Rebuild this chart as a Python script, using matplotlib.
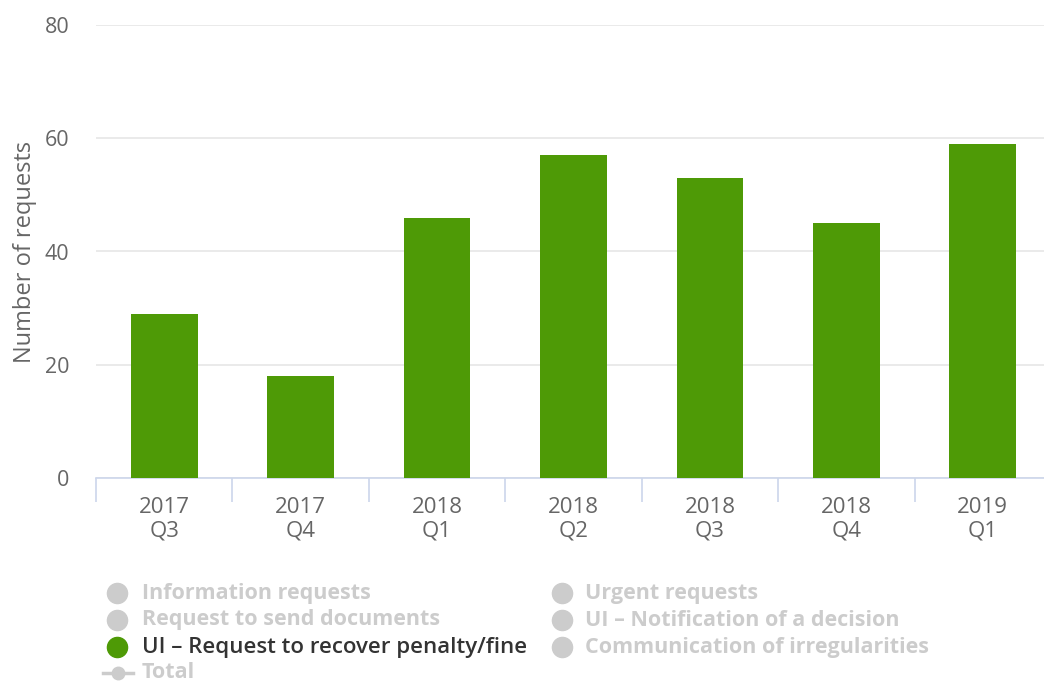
import numpy as np
import matplotlib
matplotlib.use('Agg')
import matplotlib.pyplot as plt
from matplotlib.lines import Line2D

plt.rcParams['font.family'] = ['Open Sans', 'DejaVu Sans']

# data
quarters = ['2017\nQ3', '2017\nQ4', '2018\nQ1', '2018\nQ2', '2018\nQ3', '2018\nQ4', '2019\nQ1']
recover_penalty = [29, 18, 46, 57, 53, 45, 59]

legend_left = ['Information requests', 'Request to send documents',
               'UI – Request to recover penalty/fine']
legend_right = ['Urgent requests', 'UI – Notification of a decision',
                'Communication of irregularities']
active_series = 'UI – Request to recover penalty/fine'

green = '#4e9a06'
grey_off = '#cccccc'

fig = plt.figure(figsize=(10.44, 6.84), dpi=100)
ax = fig.add_axes([96/1044, 1 - 478/684, 955/1044, 453/684])

x = np.arange(len(quarters))
ax.bar(x, recover_penalty, width=0.49, color=green, zorder=3)

ax.set_xlim(-0.5, len(quarters) - 0.5)
ax.set_ylim(0, 80)
ax.set_yticks([0, 20, 40, 60, 80])
ax.grid(axis='y', color='#e6e6e6', linewidth=1.2, zorder=0)
for s in ['top', 'right', 'left']:
    ax.spines[s].set_visible(False)
ax.spines['bottom'].set_color('#ccd6eb')
ax.spines['bottom'].set_linewidth(1.2)

# tick marks between categories, labels at centres
ax.set_xticks(np.arange(-0.5, len(quarters) + 0.5, 1))
ax.set_xticklabels([])
ax.tick_params(axis='x', which='major', length=17, color='#ccd6eb', width=1.2)
ax.set_xticks(x, minor=True)
ax.set_xticklabels(quarters, minor=True, fontsize=16, color='#666666', linespacing=1.15)
ax.tick_params(axis='x', which='minor', length=0, pad=14)
ax.tick_params(axis='y', length=0, labelsize=15.5, labelcolor='#666666', pad=19)
ax.set_ylabel('Number of requests', fontsize=17, color='#666666', labelpad=6)

# legend
row_y = [593, 620, 647]
fs = 15.5
for i, name in enumerate(legend_left):
    on = name == active_series
    fig.add_artist(Line2D([117/1044], [1 - row_y[i]/684], marker='o', markersize=14.5,
                          color=green if on else grey_off, transform=fig.transFigure))
    fig.text(142/1044, 1 - row_y[i]/684, name, fontsize=fs + 0.5 if on else fs,
             fontweight='semibold' if on else 'bold',
             color='#333333' if on else grey_off, va='center', ha='left')
for i, name in enumerate(legend_right):
    fig.add_artist(Line2D([562/1044], [1 - row_y[i]/684], marker='o', markersize=14.5,
                          color=grey_off, transform=fig.transFigure))
    fig.text(585/1044, 1 - row_y[i]/684, name, fontsize=fs, fontweight='bold',
             color=grey_off, va='center', ha='left')
fig.add_artist(Line2D([103/1044, 133/1044], [1 - 673/684] * 2, color=grey_off, linewidth=2.5,
                      transform=fig.transFigure))
fig.add_artist(Line2D([118/1044], [1 - 673/684], marker='o', markersize=9, color=grey_off,
                      transform=fig.transFigure))
fig.text(142/1044, 1 - 673/684, 'Total', fontsize=fs, fontweight='bold', color=grey_off,
         va='center', ha='left')

fig.savefig('out.png', dpi=100, facecolor='white')
